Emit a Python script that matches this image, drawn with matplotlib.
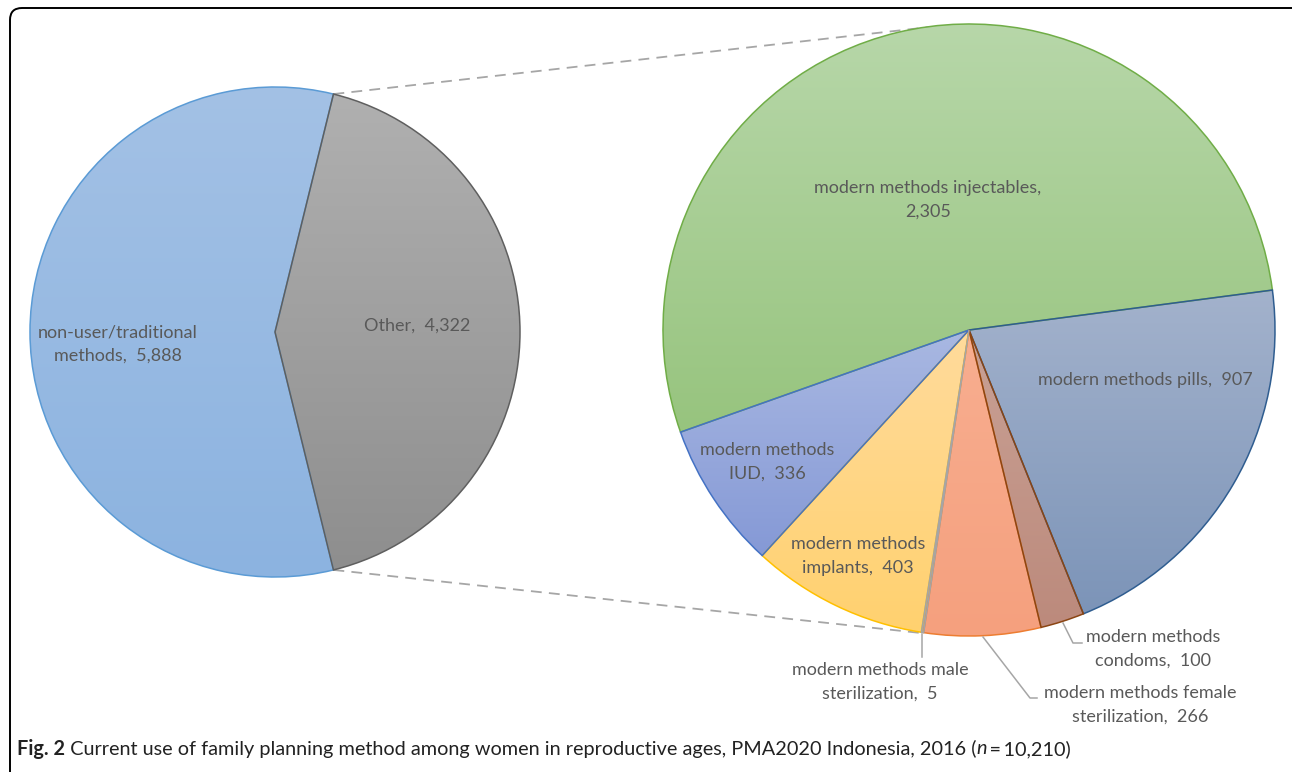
import matplotlib
matplotlib.use('Agg')
import matplotlib.pyplot as plt
import matplotlib.colors as mcolors
import numpy as np
from matplotlib.patches import FancyBboxPatch

W, H = 1292, 772

# ---------------- data ----------------
main_names = ['Other', 'non-user/traditional\nmethods']
main_values = [4322, 5888]
main_seps = ['  ', '  ']

sub_names = ['modern methods pills', 'modern methods\ncondoms',
             'modern methods female\nsterilization', 'modern methods male\nsterilization',
             'modern methods\nimplants', 'modern methods\nIUD',
             'modern methods injectables']
sub_values = [907, 100, 266, 5, 403, 336, 2305]
sub_seps = ['  ', '  ', '  ', '  ', '  ', '  ', '\n']

caption_bold = 'Fig. 2'
caption_text = ' Current use of family planning method among women in reproductive ages, PMA2020 Indonesia, 2016 ('
caption_italic = 'n'
caption_end = '\u2009=\u200910,210)'

# ---------------- styles ----------------
main_top = ['#b0b0b0', '#a3c1e5']
main_bot = ['#8e8e8e', '#8cb3e0']
main_edge = ['#5f5f5f', '#5b9bd5']
main_z = [2.5, 2.0]

sub_top = ['#a3b2cc', '#c9a195', '#f8ae90', '#bdbdbd', '#ffdb9c', '#a9b8e2', '#b7d7a9']
sub_bot = ['#7c94b8', '#bc8a7c', '#f5a07e', '#a8a8a8', '#ffd16f', '#8599d6', '#97c47e']
sub_edge = ['#2f5d90', '#8b4513', '#ed7d31', '#a5a5a5', '#ffc000', '#4472c4', '#70ad47']
sub_z = [2.2, 2.4, 2.1, 2.5, 2.2, 2.3, 2.0]

text_col = '#595959'
FONT = 'Lato'
FS = 13
LS = 1.6

main_center = (275, H - 332)
main_r = 245
sub_center = (969, H - 330)
sub_r = 306
sub_start = 7.5

main_label_pos = [(417, 326), (118, 344)]
sub_label_pos = [(1145, 380), (1153, 649), (1140, 705), (880, 682),
                 (858, 556), (767, 462), (928, 200)]

fig = plt.figure(figsize=(W / 100, H / 100), dpi=100)
ax = fig.add_axes([0, 0, 1, 1])


def grad_fill(wedge, top, bot, z):
    bb = wedge.get_path().get_extents()
    t = np.linspace(0, 1, 256)[:, None]
    c_top = np.array(mcolors.to_rgb(top))
    c_bot = np.array(mcolors.to_rgb(bot))
    img = (c_bot + (c_top - c_bot) * t)[:, None, :]
    im = ax.imshow(img, extent=[bb.x0, bb.x1, bb.y0, bb.y1], origin='lower',
                   aspect='auto', interpolation='bilinear', zorder=1)
    im.set_clip_path(wedge)
    wedge.set_facecolor('none')
    wedge.set_zorder(z)


main_start = 180 * main_values[0] / sum(main_values)
mw, _ = ax.pie(main_values, center=main_center, radius=main_r, startangle=main_start,
               counterclock=False, wedgeprops=dict(linewidth=1.1))
for w, t, b, e, z in zip(mw, main_top, main_bot, main_edge, main_z):
    w.set_edgecolor(e)
    grad_fill(w, t, b, z)

sw, _ = ax.pie(sub_values, center=sub_center, radius=sub_r, startangle=sub_start,
               counterclock=False, wedgeprops=dict(linewidth=1.1))
for w, t, b, e, z in zip(sw, sub_top, sub_bot, sub_edge, sub_z):
    w.set_edgecolor(e)
    grad_fill(w, t, b, z)

# connector lines (dashed) between the pies
def wedge_point(center, r, ang):
    a = np.deg2rad(ang)
    return center[0] + r * np.cos(a), center[1] + r * np.sin(a)

p_top = wedge_point(main_center, main_r, main_start)
p_bot = wedge_point(main_center, main_r, -main_start)
q_top = (930, H - 27)
q_bot = (921, H - 633)
dash = dict(color='#a6a6a6', lw=1.3, linestyle=(0, (6, 4)), zorder=0.5)
ax.plot([p_top[0], q_top[0]], [p_top[1], q_top[1]], **dash)
ax.plot([p_bot[0], q_bot[0]], [p_bot[1], q_bot[1]], **dash)

# labels
for name, val, sep, (x, y) in zip(main_names, main_values, main_seps, main_label_pos):
    ax.text(x, H - y, f'{name},{sep}{val:,}', ha='center', va='center', multialignment='center',
            fontsize=FS, family=FONT, color=text_col, linespacing=LS, zorder=5)
for name, val, sep, (x, y) in zip(sub_names, sub_values, sub_seps, sub_label_pos):
    ax.text(x, H - y, f'{name},{sep}{val:,}', ha='center', va='center', multialignment='center',
            fontsize=FS, family=FONT, color=text_col, linespacing=LS, zorder=5)

# leader lines
lead = dict(color='#a6a6a6', lw=1.1, zorder=4)
ax.plot([922, 922], [H - 634, H - 657], **lead)
ax.plot([983, 1030, 1037], [H - 637, H - 698, H - 698], **lead)
ax.plot([1063, 1073, 1082], [H - 623, H - 643, H - 643], **lead)

# border
ax.add_patch(FancyBboxPatch((10, -40), 1300, H - 8 + 40, boxstyle='round,pad=0,rounding_size=12',
                            transform=ax.transData, facecolor='none', edgecolor='black', lw=1.4,
                            clip_on=False, zorder=6))

ax.set_xlim(0, W)
ax.set_ylim(0, H)
ax.set_aspect('equal')
ax.axis('off')

# caption with mixed styles
fig.canvas.draw()
r = fig.canvas.get_renderer()
x = 17
yc = H - 749
CFS = 14.3
for txt, kw in [(caption_bold, dict(weight='bold')), (caption_text, {}),
                (caption_italic, dict(style='italic')), (caption_end, {})]:
    t = ax.text(x, yc, txt, ha='left', va='center', fontsize=CFS, family=FONT, color='#222222', **kw)
    bb = t.get_window_extent(renderer=r)
    x += bb.width

fig.savefig('out.png', dpi=100)
